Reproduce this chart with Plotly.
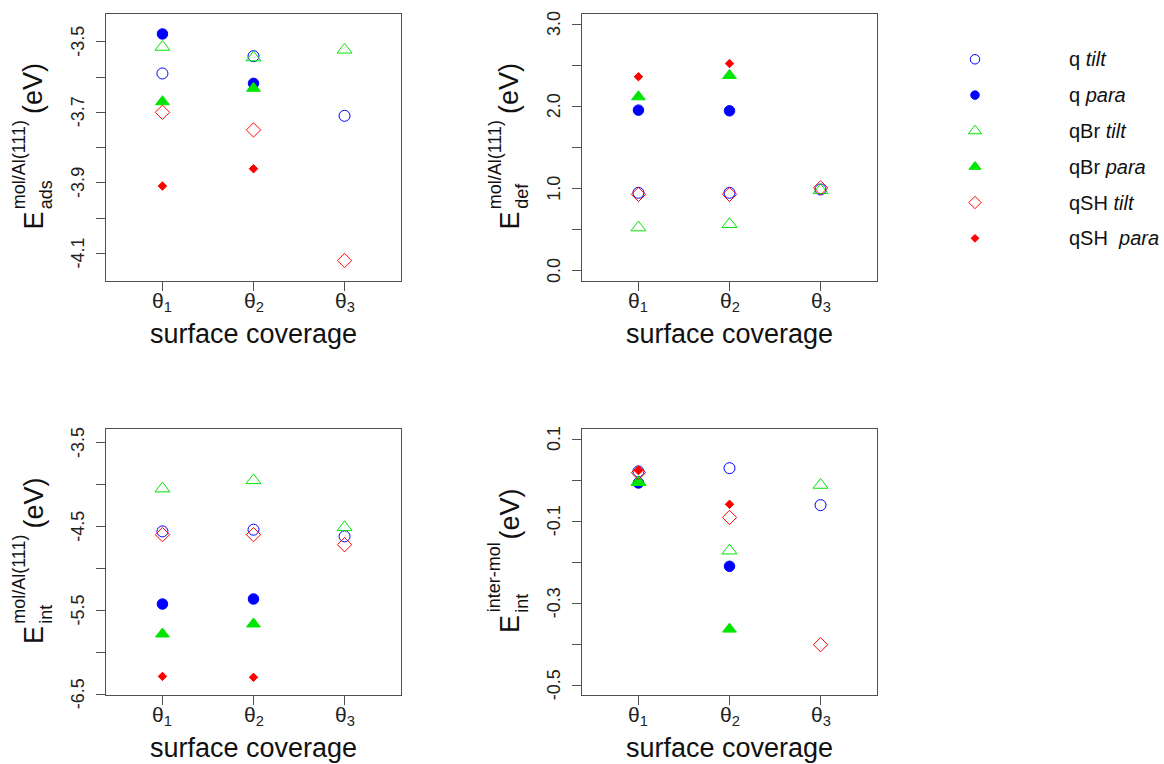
import plotly.graph_objects as go

# ---------------- data ----------------
coverage_x = [1, 2, 3]
coverage_labels = ["θ<sub>1</sub>", "θ<sub>2</sub>", "θ<sub>3</sub>"]

series_names = ["q <i>tilt</i>", "q <i>para</i>", "qBr <i>tilt</i>",
                "qBr <i>para</i>", "qSH <i>tilt</i>", "qSH\u00a0 <i>para</i>"]

# E_ads^{mol/Al(111)} (eV)
ads_q_tilt = [-3.590, -3.541, -3.710]
ads_q_para = [-3.478, -3.618, None]
ads_qBr_tilt = [-3.515, -3.545, -3.523]
ads_qBr_para = [-3.670, -3.632, None]
ads_qSH_tilt = [-3.700, -3.750, -4.120]
ads_qSH_para = [-3.909, -3.860, None]

# E_def^{mol/Al(111)} (eV)
def_q_tilt = [0.95, 0.95, 0.99]
def_q_para = [1.954, 1.946, None]
def_qBr_tilt = [0.527, 0.568, 0.98]
def_qBr_para = [2.116, 2.376, None]
def_qSH_tilt = [0.93, 0.93, 1.01]
def_qSH_para = [2.36, 2.52, None]

# E_int^{mol/Al(111)} (eV)
int_q_tilt = [-4.555, -4.535, -4.614]
int_q_para = [-5.422, -5.362, None]
int_qBr_tilt = [-4.045, -3.946, -4.507]
int_qBr_para = [-5.780, -5.660, None]
int_qSH_tilt = [-4.594, -4.594, -4.714]
int_qSH_para = [-6.286, -6.297, None]

# E_int^{inter-mol} (eV)
inter_q_tilt = [0.021, 0.029, -0.061]
inter_q_para = [-0.007, -0.210, None]
inter_qBr_tilt = [-0.005, -0.172, -0.012]
inter_qBr_para = [-0.006, -0.363, None]
inter_qSH_tilt = [0.018, -0.091, -0.401]
inter_qSH_para = [0.023, -0.059, None]

# y tick values / labels (labelled ticks and unlabelled in-between ticks)
ads_ticks = [-3.5, -3.7, -3.9, -4.1]
ads_ticklabels = ["-3.5", "-3.7", "-3.9", "-4.1"]
ads_minor = [-3.6, -3.8, -4.0]
def_ticks = [0.0, 1.0, 2.0, 3.0]
def_ticklabels = ["0.0", "1.0", "2.0", "3.0"]
def_minor = [0.5, 1.5, 2.5]
int_ticks = [-3.5, -4.5, -5.5, -6.5]
int_ticklabels = ["-3.5", "-4.5", "-5.5", "-6.5"]
int_minor = [-4.0, -5.0, -6.0]
inter_ticks = [0.1, -0.1, -0.3, -0.5]
inter_ticklabels = ["0.1", "-0.1", "-0.3", "-0.5"]
inter_minor = [0.0, -0.2, -0.4]

# ---------------- styling ----------------
W, H = 1164, 764
FONT = "Liberation Sans, Arial, sans-serif"
BLUE, GREEN, RED = "#0000FF", "#00E600", "#FF0000"
AXC = "#505050"

styles = [
    dict(symbol="circle-open", color=BLUE, size=11, lsize=9.5),
    dict(symbol="circle", color=BLUE, size=10.5, lsize=8.5),
    dict(symbol="triangle-up-open", color=GREEN, size=13, lsize=11.5),
    dict(symbol="triangle-up", color=GREEN, size=12, lsize=10.5),
    dict(symbol="diamond-open", color=RED, size=11, lsize=9.5),
    dict(symbol="diamond", color=RED, size=6.5, lsize=6),
]

panels = [
    dict(box=(106, 14, 401, 281), yr=[-4.178, -3.4215], ticks=ads_ticks, tl=ads_ticklabels,
         minor=ads_minor, sub="ads", sup="mol/Al(111)",
         data=[ads_q_tilt, ads_q_para, ads_qBr_tilt, ads_qBr_para, ads_qSH_tilt, ads_qSH_para]),
    dict(box=(582, 14, 877, 281), yr=[-0.122, 3.122], ticks=def_ticks, tl=def_ticklabels,
         minor=def_minor, sub="def", sup="mol/Al(111)",
         data=[def_q_tilt, def_q_para, def_qBr_tilt, def_qBr_para, def_qSH_tilt, def_qSH_para]),
    dict(box=(106, 429, 401, 695), yr=[-6.508, -3.333], ticks=int_ticks, tl=int_ticklabels,
         minor=int_minor, sub="int", sup="mol/Al(111)",
         data=[int_q_tilt, int_q_para, int_qBr_tilt, int_qBr_para, int_qSH_tilt, int_qSH_para]),
    dict(box=(582, 429, 877, 695), yr=[-0.5235, 0.1244], ticks=inter_ticks, tl=inter_ticklabels,
         minor=inter_minor, sub="int", sup="inter-mol",
         data=[inter_q_tilt, inter_q_para, inter_qBr_tilt, inter_qBr_para, inter_qSH_tilt, inter_qSH_para]),
]

# Arial / Liberation Sans advance widths (per em)
AW = {'E': .667, 'm': .833, 'o': .556, 'l': .222, '/': .278, 'A': .667, '(': .333, '1': .556,
      ')': .333, 'a': .556, 'd': .556, 's': .5, 'e': .556, 'f': .278, 'i': .222, 'n': .556,
      't': .278, 'r': .333, '-': .333, 'V': .667}


def tw(s, size):
    return sum(AW.get(c, .556) for c in s) * size


fig = go.Figure()
annotations = []
layout = {}

# legend axis first so it sits underneath the panels
legend_rows = list(range(len(series_names)))
mx, tx = 975, 1067
px_per_x = tx - mx
row0, row_gap = 59.3, 35.8
layout["xaxis5"] = dict(domain=[0.8, 1], range=[(0.8 * W - mx) / px_per_x, (W - mx) / px_per_x],
                        visible=False, anchor="y5", fixedrange=True)
layout["yaxis5"] = dict(domain=[0.6, 1], range=[(0.4 * H - row0) / row_gap, -row0 / row_gap],
                        visible=False, anchor="x5", fixedrange=True)
for s, r, nm in zip(styles, legend_rows, series_names):
    fig.add_trace(go.Scatter(
        x=[0], y=[r], mode="markers", xaxis="x5", yaxis="y5", showlegend=False, name=nm,
        marker=dict(symbol=s["symbol"], color=s["color"], size=s["lsize"],
                    line=dict(width=1, color=s["color"])), cliponaxis=False))
    annotations.append(dict(text=nm, x=1, y=r, xref="x5", yref="y5", xanchor="left",
                            yanchor="middle", showarrow=False,
                            font=dict(size=20, color="#111", family=FONT)))

for k, p in enumerate(panels):
    n = "" if k == 0 else str(k + 1)
    L, T, R, B = p["box"]
    xa, ya = "x" + n, "y" + n
    for s, ys, nm in zip(styles, p["data"], series_names):
        fig.add_trace(go.Scatter(
            x=coverage_x, y=ys, mode="markers", xaxis=xa, yaxis=ya, showlegend=False,
            name=nm,
            marker=dict(symbol=s["symbol"], color=s["color"], size=s["size"],
                        line=dict(width=1, color=s["color"])),
            cliponaxis=False))
    axcommon = dict(showgrid=False, zeroline=False, showline=True, mirror=True,
                    linecolor=AXC, linewidth=1.3, ticks="outside", ticklen=9,
                    tickwidth=1, tickcolor=AXC, showticklabels=False)
    layout["xaxis" + n] = dict(
        domain=[L / W, R / W], range=[0.38, 3.62], tickvals=coverage_x,
        anchor=ya, **axcommon)
    layout["yaxis" + n] = dict(
        domain=[1 - B / H, 1 - T / H], range=p["yr"], tickvals=p["ticks"],
        minor=dict(tickvals=p["minor"], ticks="outside", ticklen=9, tickwidth=1,
                   tickcolor=AXC, showgrid=False),
        anchor=xa, **axcommon)

    # tick labels, placed on the axes' own scales
    for xv, lab in zip(coverage_x, coverage_labels):
        annotations.append(dict(text=lab, x=xv, y=0, xref=xa, yref=ya + " domain",
                                xanchor="center", yanchor="top", yshift=-7, showarrow=False,
                                borderpad=0, font=dict(size=21, color="#222", family=FONT)))
    for yv, lab in zip(p["ticks"], p["tl"]):
        annotations.append(dict(text=lab, x=0, y=yv, xref=xa + " domain", yref=ya,
                                xanchor="right", yanchor="middle", xshift=-17, textangle=-90,
                                showarrow=False, borderpad=0,
                                font=dict(size=18, color="#222", family=FONT)))

    # x-axis title
    annotations.append(dict(text="surface coverage", x=(L + R) / 2 / W, y=1 - (B + 53) / H,
                            xref="paper", yref="paper", xanchor="center", yanchor="middle",
                            showarrow=False, font=dict(size=27, color="#111", family=FONT)))
    # y-axis title: E_sub^sup (eV)
    C = (T + B) / 2
    lE = tw("E", 27)
    lmid = max(tw(p["sup"], 18), tw(p["sub"], 18))
    leV = tw("(eV)", 27)
    g1, g2 = 3, 3
    total = lE + g1 + lmid + g2 + leV
    start = C + total / 2
    pieces = [
        ("E", 27, L - 72.4, start),
        (p["sup"], 18, L - 87.2, start - lE - g1),
        (p["sub"], 18, L - 60.2, start - lE - g1),
        ("(eV)", 27, L - 72.4, start - lE - g1 - lmid - g2),
    ]
    for txt, sz, cx, yb in pieces:
        annotations.append(dict(text=txt, x=cx / W, y=1 - yb / H, xref="paper", yref="paper",
                                xanchor="center", yanchor="bottom", textangle=-90,
                                showarrow=False, borderpad=0,
                                font=dict(size=sz, color="#111", family=FONT)))

fig.update_layout(
    width=W, height=H, margin=dict(l=0, r=0, t=0, b=0),
    paper_bgcolor="white", plot_bgcolor="rgba(0,0,0,0)", showlegend=False,
    font=dict(family=FONT), annotations=annotations, **layout)

fig.write_html("out.html")
